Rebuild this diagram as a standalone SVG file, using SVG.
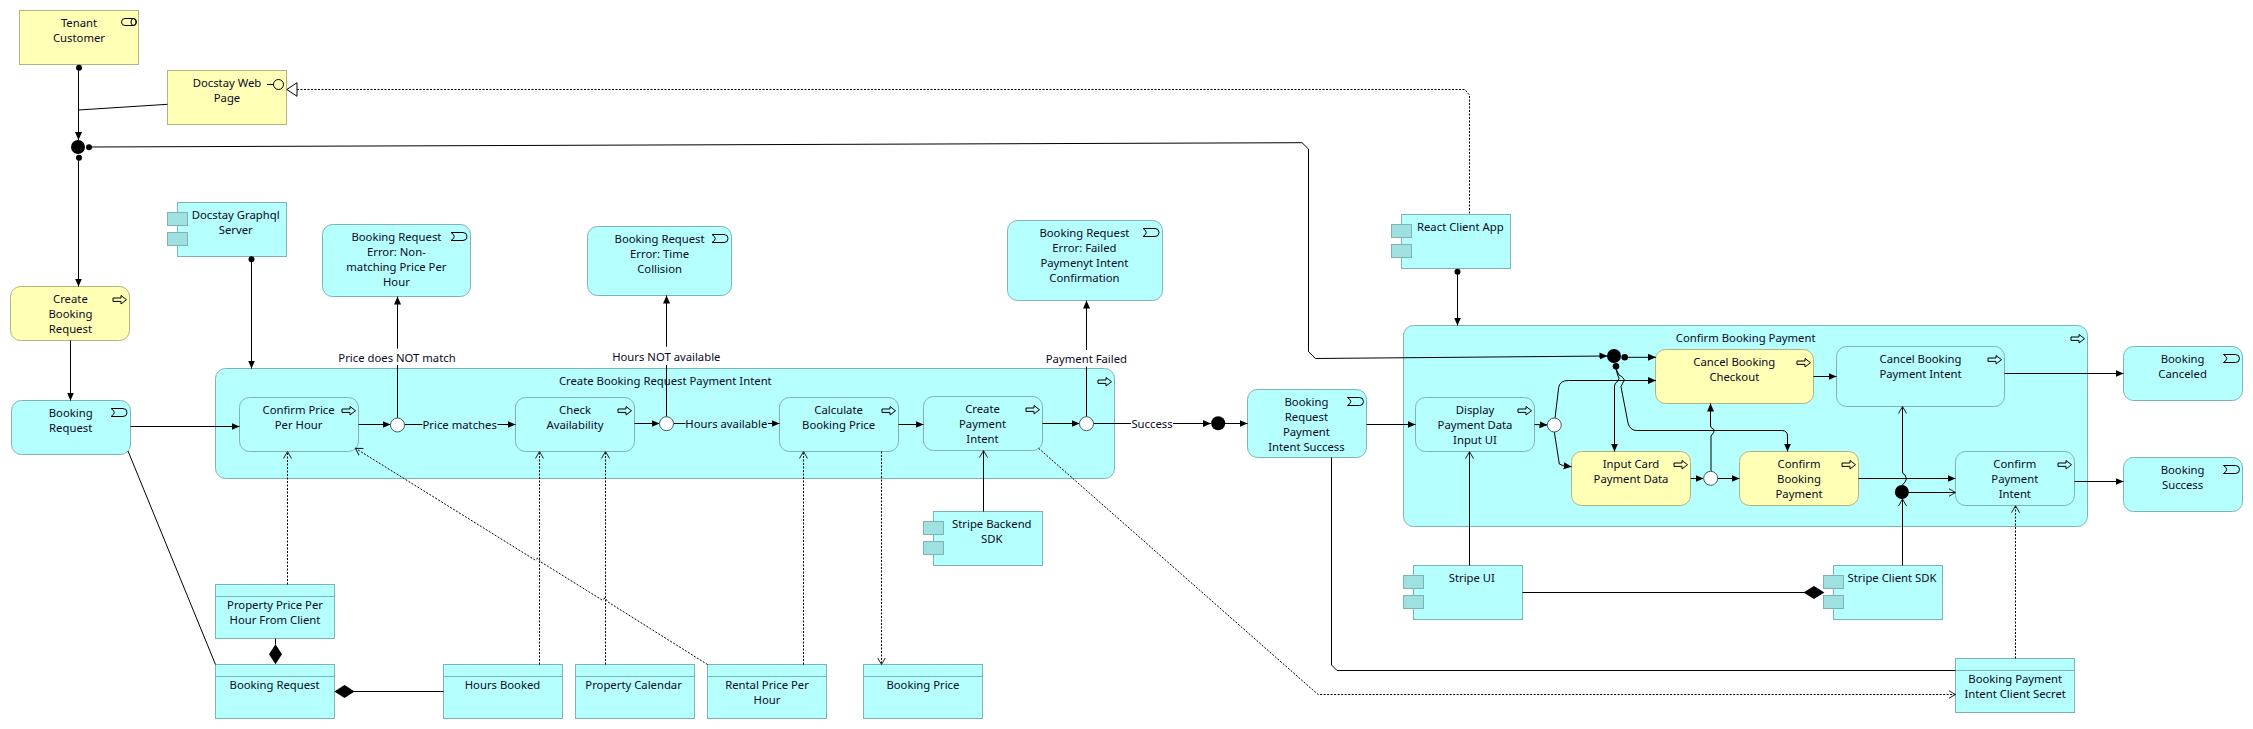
<svg xmlns="http://www.w3.org/2000/svg" width="2253" height="729" viewBox="0 0 2253 729">
<style>
text{font-family:"Noto Sans","Liberation Sans",Arial,sans-serif;font-size:11.3px;fill:#0a0a1e;text-anchor:middle}
.c{fill:#b5ffff;stroke:#7fb3b3;stroke-width:1}
.y{fill:#ffffb5;stroke:#b3b37f;stroke-width:1}
.t{fill:#9fe0e0;stroke:#7fb3b3;stroke-width:1}
.i{fill:none;stroke:#000;stroke-width:1}
.l{fill:none;stroke:#000;stroke-width:1}
.d{fill:none;stroke:#000;stroke-width:1;stroke-dasharray:2 1.5}
.a{marker-end:url(#ar)}
.o{marker-end:url(#op)}
.j{fill:#000}
.x{fill:#fff;stroke:#3c5f5f;stroke-width:1}
</style>
<defs>
<marker id="ar" markerUnits="userSpaceOnUse" markerWidth="9" markerHeight="9" refX="8" refY="4" orient="auto"><path d="M0,0.5L8,4L0,7.5Z" fill="#000"/></marker>
<marker id="op" markerUnits="userSpaceOnUse" markerWidth="8" markerHeight="10" refX="7" refY="5" orient="auto"><path d="M0,1L7,5L0,9" fill="none" stroke="#222" stroke-width="1"/></marker>
<g id="proc"><path class="i" d="M0.5,3H8.5V0.5L14,4.7L8.5,9V6.4H0.5Z"/></g>
<g id="ev"><path class="i" d="M0.5,0.5H12.5A4,4 0 0 1 12.5,8.5H0.5Q7,4.5 0.5,0.5Z"/></g>
</defs>
<g id="create-booking-request-payment-intent"><rect class="c" x="215.5" y="368.5" width="899" height="110" rx="10"/><text x="665.3" y="385">Create Booking Request Payment Intent</text><use href="#proc" x="1097.5" y="377"/></g>
<g id="confirm-booking-payment"><rect class="c" x="1403.5" y="325.5" width="684" height="201" rx="10"/><text x="1745.7" y="342">Confirm Booking Payment</text><use href="#proc" x="2070.5" y="334"/></g>
<g id="tenant-customer"><rect class="y" x="19.5" y="10.5" width="119" height="54"/><text x="79" y="27">Tenant</text><text x="79" y="42">Customer</text><rect class="i" x="121.5" y="18.5" width="15" height="7" rx="3.5"/><ellipse class="i" cx="133.5" cy="22" rx="2.5" ry="3.5"/></g>
<g id="docstay-web-page"><rect class="y" x="167.5" y="70.5" width="119" height="54"/><text x="227" y="87">Docstay Web</text><text x="227" y="102">Page</text><path class="i" d="M267,84.5H273.5"/><circle class="i" cx="278.5" cy="84.5" r="5"/></g>
<g id="docstay-graphql-server"><rect class="c" x="177.5" y="202.5" width="109" height="54"/><rect class="t" x="167.5" y="212.5" width="20" height="13"/><rect class="t" x="167.5" y="232.5" width="20" height="13"/><text x="235.7" y="219">Docstay Graphql</text><text x="235.7" y="234">Server</text></g>
<g id="create-booking-request"><rect class="y" x="10.5" y="286.5" width="119" height="54" rx="10"/><text x="70.4" y="303">Create</text><text x="70.4" y="318">Booking</text><text x="70.4" y="333">Request</text><use href="#proc" x="112.5" y="295"/></g>
<g id="booking-request-event"><rect class="c" x="11.5" y="400.5" width="119" height="54" rx="10"/><text x="70.7" y="417">Booking</text><text x="70.7" y="432">Request</text><use href="#ev" x="110.5" y="408"/></g>
<g id="error-price"><rect class="c" x="322.5" y="224.5" width="148" height="72" rx="10"/><text x="396.4" y="241">Booking Request</text><text x="396.4" y="256">Error: Non-</text><text x="396.4" y="271">matching Price Per</text><text x="396.4" y="286">Hour</text><use href="#ev" x="450.5" y="232"/></g>
<g id="error-time"><rect class="c" x="587.5" y="226.5" width="144" height="69" rx="10"/><text x="659.6" y="243">Booking Request</text><text x="659.6" y="258">Error: Time</text><text x="659.6" y="273">Collision</text><use href="#ev" x="711.5" y="234"/></g>
<g id="error-payment"><rect class="c" x="1007.5" y="220.5" width="155" height="80" rx="10"/><text x="1084.4" y="237">Booking Request</text><text x="1084.4" y="252">Error: Failed</text><text x="1084.4" y="267">Paymenyt Intent</text><text x="1084.4" y="282">Confirmation</text><use href="#ev" x="1142.5" y="228"/></g>
<g id="confirm-price"><rect class="c" x="239.5" y="397.5" width="119" height="54" rx="10"/><text x="298.6" y="414">Confirm Price</text><text x="298.6" y="429">Per Hour</text><use href="#proc" x="341.5" y="406"/></g>
<g id="check-availability"><rect class="c" x="515.5" y="397.5" width="119" height="54" rx="10"/><text x="575" y="414">Check</text><text x="575" y="429">Availability</text><use href="#proc" x="617.5" y="406"/></g>
<g id="calculate-booking-price"><rect class="c" x="779.5" y="397.5" width="119" height="54" rx="10"/><text x="838.6" y="414">Calculate</text><text x="838.6" y="429">Booking Price</text><use href="#proc" x="881.5" y="406"/></g>
<g id="create-payment-intent"><rect class="c" x="923.5" y="396.5" width="119" height="54" rx="10"/><text x="982.5" y="413">Create</text><text x="982.5" y="428">Payment</text><text x="982.5" y="443">Intent</text><use href="#proc" x="1025.5" y="405"/></g>
<g id="stripe-backend-sdk"><rect class="c" x="933.5" y="511.5" width="109" height="54"/><rect class="t" x="923.5" y="521.5" width="20" height="13"/><rect class="t" x="923.5" y="541.5" width="20" height="13"/><text x="991.8" y="528">Stripe Backend</text><text x="991.8" y="543">SDK</text></g>
<g id="property-price"><rect class="c" x="215.5" y="584.5" width="119" height="54"/><path class="c" d="M215.5,596.5H334.5"/><text x="275" y="609">Property Price Per</text><text x="275" y="624">Hour From Client</text></g>
<g id="booking-request-data"><rect class="c" x="215.5" y="664.5" width="119" height="54"/><path class="c" d="M215.5,676.5H334.5"/><text x="274.6" y="689">Booking Request</text></g>
<g id="hours-booked"><rect class="c" x="443.5" y="664.5" width="119" height="54"/><path class="c" d="M443.5,676.5H562.5"/><text x="502.5" y="689">Hours Booked</text></g>
<g id="property-calendar"><rect class="c" x="575.5" y="664.5" width="119" height="54"/><path class="c" d="M575.5,676.5H694.5"/><text x="633.6" y="689">Property Calendar</text></g>
<g id="rental-price"><rect class="c" x="707.5" y="664.5" width="119" height="54"/><path class="c" d="M707.5,676.5H826.5"/><text x="767" y="689">Rental Price Per</text><text x="767" y="704">Hour</text></g>
<g id="booking-price"><rect class="c" x="863.5" y="664.5" width="119" height="54"/><path class="c" d="M863.5,676.5H982.5"/><text x="922.9" y="689">Booking Price</text></g>
<g id="booking-request-payment-intent-success"><rect class="c" x="1247.5" y="389.5" width="119" height="68" rx="10"/><text x="1306.4" y="406">Booking</text><text x="1306.4" y="421">Request</text><text x="1306.4" y="436">Payment</text><text x="1306.4" y="451">Intent Success</text><use href="#ev" x="1347" y="397"/></g>
<g id="display-payment-data"><rect class="c" x="1415.5" y="397.5" width="119" height="54" rx="10"/><text x="1475" y="414">Display</text><text x="1475" y="429">Payment Data</text><text x="1475" y="444">Input UI</text><use href="#proc" x="1517.5" y="406"/></g>
<g id="cancel-booking-checkout"><rect class="y" x="1655.5" y="349.5" width="158" height="54" rx="10"/><text x="1734.3" y="366">Cancel Booking</text><text x="1734.3" y="381">Checkout</text><use href="#proc" x="1796.5" y="358"/></g>
<g id="input-card"><rect class="y" x="1571.5" y="451.5" width="119" height="54" rx="10"/><text x="1631" y="468">Input Card</text><text x="1631" y="483">Payment Data</text><use href="#proc" x="1673.5" y="460"/></g>
<g id="confirm-booking-payment-step"><rect class="y" x="1739.5" y="451.5" width="119" height="54" rx="10"/><text x="1799" y="468">Confirm</text><text x="1799" y="483">Booking</text><text x="1799" y="498">Payment</text><use href="#proc" x="1841.5" y="460"/></g>
<g id="cancel-booking-payment-intent"><rect class="c" x="1836.5" y="346.5" width="168" height="60" rx="10"/><text x="1920.5" y="363">Cancel Booking</text><text x="1920.5" y="378">Payment Intent</text><use href="#proc" x="1987.5" y="355"/></g>
<g id="confirm-payment-intent"><rect class="c" x="1955.5" y="451.5" width="119" height="54" rx="10"/><text x="2014.8" y="468">Confirm</text><text x="2014.8" y="483">Payment</text><text x="2014.8" y="498">Intent</text><use href="#proc" x="2057.5" y="460"/></g>
<g id="booking-canceled"><rect class="c" x="2123.5" y="346.5" width="119" height="54" rx="10"/><text x="2182.6" y="363">Booking</text><text x="2182.6" y="378">Canceled</text><use href="#ev" x="2223" y="354"/></g>
<g id="booking-success"><rect class="c" x="2123.5" y="457.5" width="119" height="54" rx="10"/><text x="2182.6" y="474">Booking</text><text x="2182.6" y="489">Success</text><use href="#ev" x="2223" y="465"/></g>
<g id="react-client-app"><rect class="c" x="1401.5" y="214.5" width="109" height="54"/><rect class="t" x="1391.5" y="224.5" width="20" height="13"/><rect class="t" x="1391.5" y="244.5" width="20" height="13"/><text x="1460.3" y="231">React Client App</text></g>
<g id="stripe-ui"><rect class="c" x="1413.5" y="565.5" width="109" height="54"/><rect class="t" x="1403.5" y="575.5" width="20" height="13"/><rect class="t" x="1403.5" y="595.5" width="20" height="13"/><text x="1471.8" y="582">Stripe UI</text></g>
<g id="stripe-client-sdk"><rect class="c" x="1833.5" y="565.5" width="109" height="54"/><rect class="t" x="1823.5" y="575.5" width="20" height="13"/><rect class="t" x="1823.5" y="595.5" width="20" height="13"/><text x="1892" y="582">Stripe Client SDK</text></g>
<g id="booking-payment-intent-client-secret"><rect class="c" x="1955.5" y="658.5" width="119" height="54"/><path class="c" d="M1955.5,670.5H2074.5"/><text x="2015.2" y="683">Booking Payment</text><text x="2015.2" y="698">Intent Client Secret</text></g>
<g id="connectors">
<path class="l a" d="M78.5,70V140"/>
<path class="l" d="M167.5,104.3L78.5,110"/>
<path class="l a" d="M89,147L1302,142.7L1308.5,149V351.7L1315.5,358.5L1607.5,356"/>
<path class="l a" d="M78.5,160V286.5"/>
<path class="l a" d="M70.5,340.5V400.5"/>
<path class="l a" d="M251.5,259V368.5"/>
<path class="l a" d="M130.5,426.5H239.5"/>
<path class="l" d="M128,451L215.5,664.5"/>
<path class="l a" d="M358.5,424.5H390.5"/>
<path class="l a" d="M397.5,348.7V296.5"/><path class="l" d="M397.5,365V418"/>
<path class="l" d="M404.5,424.5H422.5"/><path class="l a" d="M497.5,424.5H515.5"/>
<path class="l a" d="M634.5,423.5H659.5"/>
<path class="l a" d="M666.5,346.7V295.5"/><path class="l" d="M666.5,365V416.7"/>
<path class="l" d="M673.5,423.5H685.5"/><path class="l a" d="M768,423.5H779.5"/>
<path class="l a" d="M898.5,424.5H923.5"/>
<path class="l a" d="M1042.5,423.5H1079.5"/>
<path class="l a" d="M1086.5,350V300.5"/><path class="l" d="M1086.5,366.7V416.7"/>
<path class="l" d="M1093.5,423.5H1131"/><path class="l a" d="M1173,423.5H1211"/>
<path class="l a" d="M1225,423.5H1247.5"/>
<path class="l a" d="M1366.5,424.5H1415.5"/>
<path class="l o" d="M983.5,511.5V450.5"/>
<path class="d o" d="M287.5,584.5V451.5"/>
<path class="d o" d="M539.5,664.5V451.5"/>
<path class="d o" d="M605.5,664.5V451.5"/>
<path class="d o" d="M803.5,664.5V451.5"/>
<path class="d o" d="M881.5,451.5V664.5"/>
<path class="d o" d="M707.5,664.5L608,602L605,598L602,600L541,562L538,558L535,560L355.4,448.3"/>
<path class="d o" d="M1038.6,448.3L1312.9,690L1318.2,694.5H1955.5"/>
<path class="l" d="M1331.5,457.5V665L1337,670.5H1955.5"/>
<path class="l" d="M275.5,638.5V644.5"/>
<path class="j" d="M275.5,644.3L282,654.3L275.5,664.3L269,654.3Z"/>
<path class="l" d="M354,691.5H443.5"/>
<path class="j" d="M334.3,691.5L344.5,685L354.6,691.5L344.5,698Z"/>
<path class="d" d="M297,89.5H1464.7L1469.5,95V214.5"/>
<path d="M286.8,89.5L297,82.7V96.3Z" fill="#fff" stroke="#000"/>
<path class="l a" d="M1457.5,272V325.5"/>
<path class="l o" d="M1469.5,565.5V451.7"/>
<path class="l" d="M1522.5,592.5H1804"/>
<path class="j" d="M1803.5,592.5L1814,586L1824.4,592.5L1814,599Z"/>
<path class="l a" d="M1534.5,424.5L1547.5,425"/>
<path class="l a" d="M1555,418.3L1558.7,387.3Q1560,380.5 1568.3,380.5H1656"/>
<path class="l a" d="M1554.3,431.7L1559.3,464L1563.3,465.7L1571.7,466.7"/>
<path class="l a" d="M1626,357.3H1656"/>
<path class="l a" d="M1616,369L1618,376Q1620,378 1618,381Q1614.5,383 1614.5,386V451.5"/>
<path class="l a" d="M1616,369L1619,375Q1625,378 1624,381Q1622,384 1621,386.7L1628,423Q1630,430.5 1636.7,430.5H1781.7Q1787.5,430.5 1787.5,436V451.5"/>
<path class="l a" d="M1690.7,478.5H1703.5"/>
<path class="l a" d="M1717.7,478.5H1739.5"/>
<path class="l a" d="M1711,471.3V436Q1715,432 1714,429.5Q1710.5,428 1710.5,426V403.5"/>
<path class="l a" d="M1813.5,376.5H1836.5"/>
<path class="l a" d="M2004.5,373.5H2123.5"/>
<path class="l a" d="M1858.5,478.5H1955.5"/>
<path class="l a" d="M2074.5,481.5H2123.5"/>
<path class="l o" d="M1908,492.5H1955.5"/>
<path class="l o" d="M1902.5,485L1905,482Q1908,479 1905,475Q1902.5,474 1902.5,472V406.5"/>
<path class="l o" d="M1902.5,565.5V499"/>
<path class="d o" d="M2015.5,658.5V505.7"/>
<text x="397" y="362">Price does NOT match</text>
<text x="459.7" y="429">Price matches</text>
<text x="666.3" y="361">Hours NOT available</text>
<text x="726.3" y="428">Hours available</text>
<text x="1086.4" y="363">Payment Failed</text>
<text x="1152" y="428">Success</text>
</g>
<g id="junction-1"><circle class="j" cx="78" cy="147" r="7"/><circle class="j" cx="79" cy="67.7" r="3"/><circle class="j" cx="89" cy="147.3" r="3"/><circle class="j" cx="79" cy="157.7" r="3"/></g>
<g id="junction-2"><circle class="j" cx="1614" cy="356" r="7"/><circle class="j" cx="1624.7" cy="357.3" r="3.3"/><circle class="j" cx="1616" cy="366.3" r="3.3"/></g>
<g id="junction-3"><circle class="j" cx="1218.2" cy="423.3" r="7"/></g>
<g id="junction-4"><circle class="j" cx="1901.9" cy="492" r="7"/></g>
<g id="or-1"><circle class="x" cx="397.5" cy="425" r="7"/></g>
<g id="or-2"><circle class="x" cx="666.5" cy="423.7" r="7"/></g>
<g id="or-3"><circle class="x" cx="1086.5" cy="423.7" r="7"/></g>
<g id="or-4"><circle class="x" cx="1554.3" cy="425" r="7"/></g>
<g id="or-5"><circle class="x" cx="1710.7" cy="478.3" r="7"/></g>
<g id="dots"><circle class="j" cx="251.5" cy="259.3" r="3"/><circle class="j" cx="1457.5" cy="271.7" r="3"/></g>
</svg>
